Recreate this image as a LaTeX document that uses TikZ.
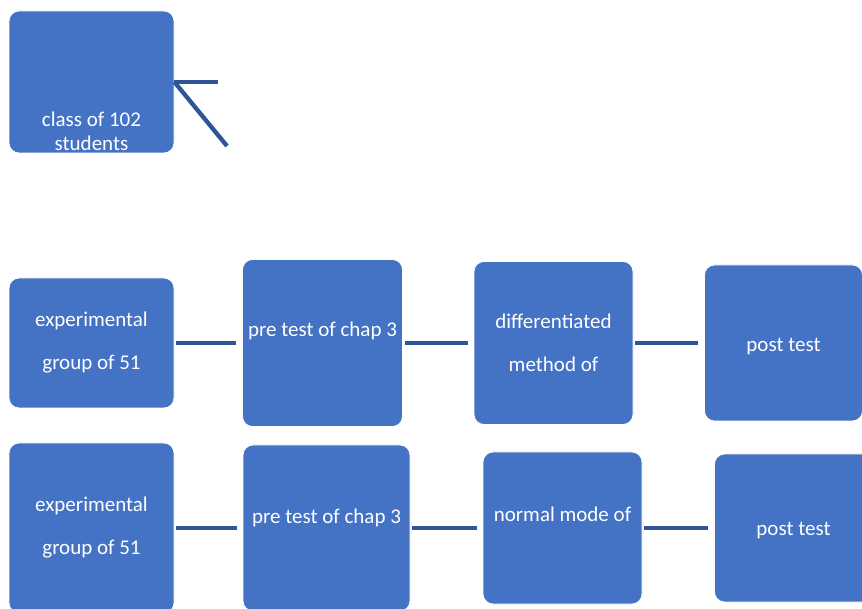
\documentclass[tikz,border=0pt]{standalone}
\usepackage{fontspec}
\setmainfont{Carlito}
\usepackage{tikz}
\definecolor{boxblue}{HTML}{4472C4}
\definecolor{lineblue}{HTML}{2F5597}
\tikzstyle{block} = [rectangle, rounded corners=10pt, fill=boxblue, draw=white, line width=0.8pt, text=white, align=center, font=\fontsize{21}{43}\selectfont]
\tikzstyle{boxtext} = [text=white, align=center, font=\fontsize{21}{24}\selectfont]
\tikzstyle{link} = [line width=4.3pt, draw=lineblue, shorten <=2pt, shorten >=6pt]
\tikzstyle{fork} = [line width=4.3pt, draw=lineblue]

\begin{document}
\begin{tikzpicture}[x=1pt, y=1pt, node distance=231pt]
      \useasboundingbox (0,0) rectangle (862,608);

      \node (cls)     [block, minimum width=165pt, minimum height=142pt] at (91.5,526) {};
      \node (clstext) [boxtext, below of=cls, node distance=49pt]  {class of 102\\students};
      \coordinate (split1) at (218,526);
      \coordinate (split2) at (227,462);

      \node (a1) [block, minimum width=165pt, minimum height=130pt] at (91.5,265) {experimental\\group of 51};
      \node (b1) [block, right of=a1, minimum width=160pt, minimum height=167pt, text depth=28pt] {pre test of chap 3};
      \node (c1) [block, right of=b1, minimum width=159pt, minimum height=163pt] {differentiated\\method of};
      \node (d1) [block, right of=c1, xshift=-1pt, minimum width=158pt, minimum height=156pt, text height=21pt] {post test};

      \node (a2) [block, minimum width=165pt, minimum height=170pt] at (91.5,80) {experimental\\group of 51};
      \node (b2) [block, right of=a2, xshift=4pt, minimum width=167pt, minimum height=166pt, text depth=24pt] {pre test of chap 3};
      \node (c2) [block, right of=b2, xshift=5pt, minimum width=159pt, minimum height=152pt, text depth=28pt] {normal mode of};
      \node (d2) [block, right of=c2, minimum width=158pt, minimum height=148pt, text height=19pt] {post test};

      \draw [fork] (cls.east) -- (split1);
      \draw [fork] (cls.east) -- (split2);

      \draw [link] (a1) -- (b1);
      \draw [link] (b1) -- (c1);
      \draw [link] (c1) -- (d1);

      \draw [link] (a2) -- (b2);
      \draw [link] (b2) -- (c2);
      \draw [link] (c2) -- (d2);
    \end{tikzpicture}
\end{document}
